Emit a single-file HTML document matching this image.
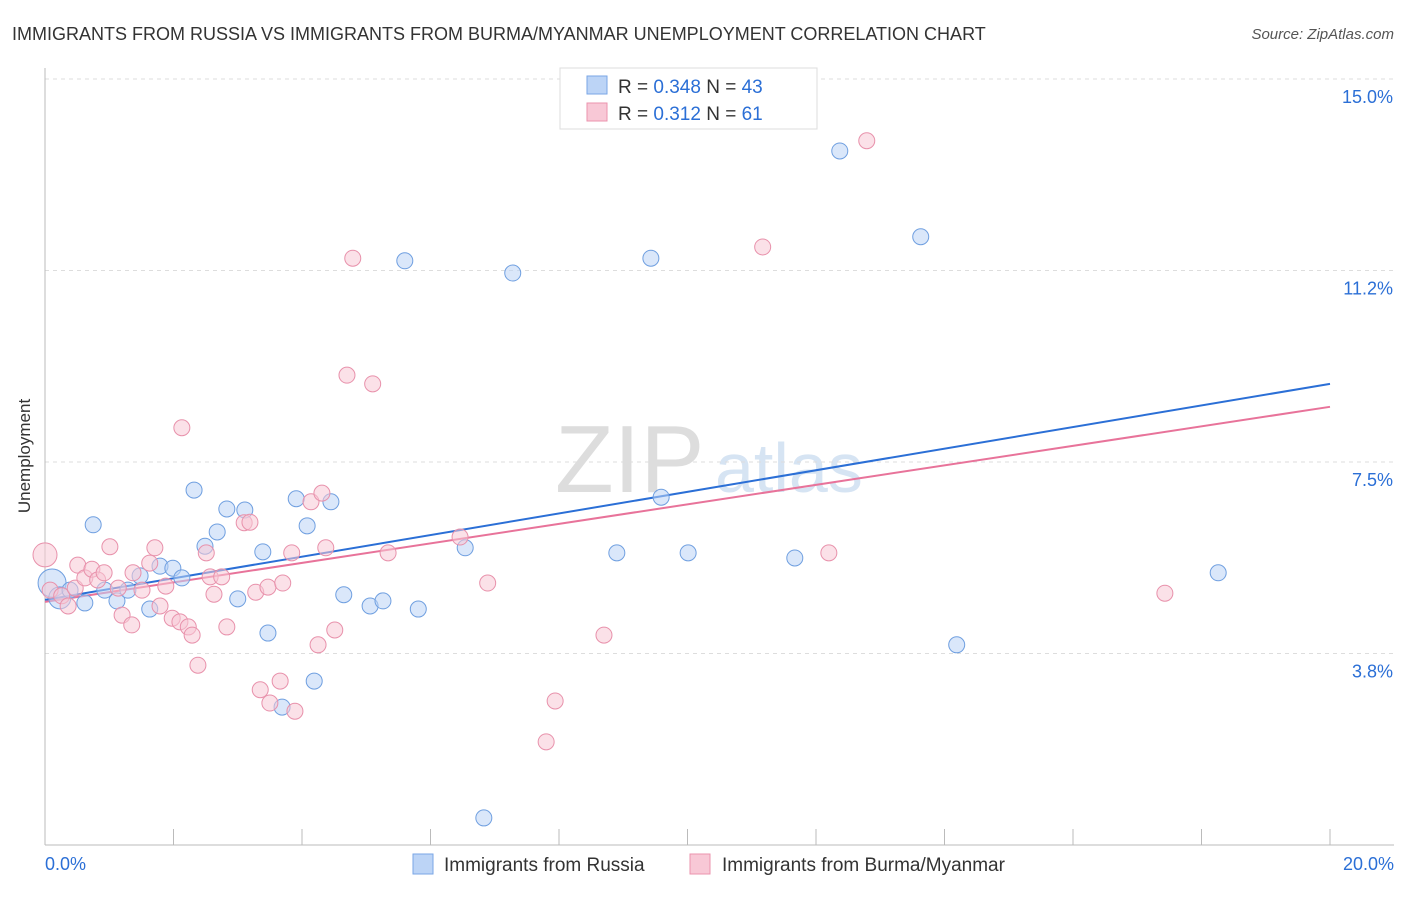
<!DOCTYPE html>
<html><head><meta charset="utf-8"><style>
body{margin:0;background:#fff;font-family:"Liberation Sans",sans-serif;}
svg text{font-family:"Liberation Sans",sans-serif;}
</style></head><body>
<svg id="chart" width="1406" height="892">
<text x="12" y="40" font-size="18" fill="#333">IMMIGRANTS FROM RUSSIA VS IMMIGRANTS FROM BURMA/MYANMAR UNEMPLOYMENT CORRELATION CHART</text>
<text x="1394" y="39" font-size="15" fill="#555" font-style="italic" text-anchor="end">Source: ZipAtlas.com</text>
<text x="30" y="456" font-size="17" fill="#333" text-anchor="middle" transform="rotate(-90 30 456)">Unemployment</text>
<g><text x="555" y="492" font-size="96" fill="#ddd" font-family="Liberation Serif">ZIP</text><text x="715" y="492" font-size="70" fill="#d6e4f3">atlas</text></g>
<g id="grid"></g><g id="axes"></g><g id="trend"></g><g id="pts"></g>
<g>
<rect x="560" y="68" width="257" height="61" fill="#fff" stroke="#ddd"/>
<rect x="587" y="76" width="20" height="18" fill="#bcd4f6" stroke="#7aa6e6"/>
<rect x="587" y="103" width="20" height="18" fill="#f8c8d6" stroke="#eb93ae"/>
<text x="618" y="93" font-size="19" fill="#333">R = <tspan fill="#2b6fd6">0.348</tspan>   N = <tspan fill="#2b6fd6">43</tspan></text>
<text x="618" y="120" font-size="19" fill="#333">R =  <tspan fill="#2b6fd6">0.312</tspan>   N =  <tspan fill="#2b6fd6">61</tspan></text>
</g>
<g>
<rect x="413" y="854" width="20" height="20" fill="#bcd4f6" stroke="#7aa6e6"/>
<text x="444" y="871" font-size="19" fill="#333">Immigrants from Russia</text>
<rect x="690" y="854" width="20" height="20" fill="#f8c8d6" stroke="#eb93ae"/>
<text x="722" y="871" font-size="19" fill="#333">Immigrants from Burma/Myanmar</text>
</g>
</svg>
<script>
const yTicks=[15.0,11.25,7.5,3.75];
const yTickLabels=["15.0%","11.2%","7.5%","3.8%"];
const xTickLabels=["0.0%","20.0%"];
const russiaX=[0.11,0.23,0.39,0.62,0.75,0.93,1.12,1.29,1.48,1.63,1.79,1.99,2.13,2.32,2.49,2.68,2.83,3.00,3.11,3.39,3.47,3.69,3.91,4.08,4.19,4.45,4.65,5.06,5.26,5.60,5.81,6.54,6.83,7.28,8.90,9.43,9.59,10.01,11.67,12.37,13.63,14.19,18.26];
const russiaY=[5.13,4.84,4.99,4.74,6.27,4.99,4.78,4.99,5.27,4.62,5.46,5.42,5.23,6.95,5.85,6.13,6.58,4.82,6.56,5.74,4.15,2.70,6.78,6.25,3.21,6.72,4.90,4.68,4.78,11.44,4.62,5.82,0.53,11.20,5.72,11.49,6.81,5.72,5.62,13.59,11.91,3.92,5.33];
const burmaX=[0,0.08,0.26,0.36,0.47,0.51,0.62,0.73,0.82,0.92,1.01,1.14,1.20,1.35,1.37,1.51,1.63,1.71,1.79,1.88,1.98,2.10,2.13,2.23,2.29,2.38,2.51,2.57,2.63,2.75,2.83,3.10,3.19,3.28,3.35,3.47,3.50,3.66,3.70,3.84,3.89,4.14,4.25,4.31,4.37,4.51,4.70,4.79,5.10,5.34,6.46,6.89,7.80,7.94,8.70,11.17,12.20,12.79,17.43];
const burmaY=[5.68,4.99,4.88,4.68,5.03,5.48,5.23,5.40,5.19,5.33,5.84,5.03,4.50,4.31,5.33,4.99,5.52,5.82,4.68,5.07,4.44,4.37,8.17,4.27,4.11,3.52,5.72,5.25,4.91,5.25,4.27,6.31,6.32,4.95,3.04,5.05,2.78,3.21,5.13,5.72,2.62,6.72,3.92,6.89,5.82,4.21,9.20,11.49,9.03,5.72,6.03,5.13,2.02,2.82,4.11,11.71,5.72,13.79,4.93];
const russiaTrend=[4.80,9.03];
const burmaTrend=[4.76,8.58];
const NS='http://www.w3.org/2000/svg';
const X=v=>45+v/20*1285, Y=v=>845-v*51.07;
function mk(p,t,a){const e=document.createElementNS(NS,t);for(const k in a)e.setAttribute(k,a[k]);p.appendChild(e);return e;}
const grid=document.getElementById('grid'),axes=document.getElementById('axes');
yTicks.forEach((v,i)=>{
 const l=mk(grid,'line',{x1:45,x2:1394,y1:Y(v),y2:Y(v),stroke:'#ddd','stroke-dasharray':'4,4'});
 
 
 const t=mk(axes,'text',{x:1393,y:Y(v)+24,'font-size':18,fill:'#2b6fd6','text-anchor':'end'});t.textContent=yTickLabels[i];
 
 
});
const ax=mk(axes,'line',{x1:45,x2:45,y1:68,y2:845,stroke:'#bbb'});


const bx=mk(axes,'line',{x1:45,x2:1394,y1:845,y2:845,stroke:'#bbb'});


for(let i=0;i<=10;i++){
 const tk=mk(axes,'line',{x1:X(i*2),x2:X(i*2),y1:829,y2:845,stroke:'#bbb'});
 
 
}
[[0,'start',45],[20,'end',1394]].forEach((d,i)=>{
 const t=mk(axes,'text',{x:d[2],y:870,'font-size':18,fill:'#2b6fd6','text-anchor':d[1]});t.textContent=xTickLabels[i];
 
 
});
const pts=document.getElementById('pts');
function series(xs,ys,fill,stroke,name,big){
 xs.forEach((x,i)=>{
  const r=big[i]||8;
  const c=mk(pts,'circle',{cx:X(x),cy:Y(ys[i]),r:r,fill:fill,'fill-opacity':0.55,stroke:stroke,'stroke-width':1});
  
  
 });
}
series(russiaX,russiaY,'#bcd4f6','#6f9fe0','russia-point',{0:14,1:11});
series(burmaX,burmaY,'#f8c8d6','#e891ab','burma-point',{0:12});
const tr=document.getElementById('trend');
const l1=mk(tr,'line',{x1:X(0),y1:Y(russiaTrend[0]),x2:X(20),y2:Y(russiaTrend[1]),stroke:'#2b6fd6','stroke-width':2});


const l2=mk(tr,'line',{x1:X(0),y1:Y(burmaTrend[0]),x2:X(20),y2:Y(burmaTrend[1]),stroke:'#e8739a','stroke-width':2});


</script>
</body></html>
